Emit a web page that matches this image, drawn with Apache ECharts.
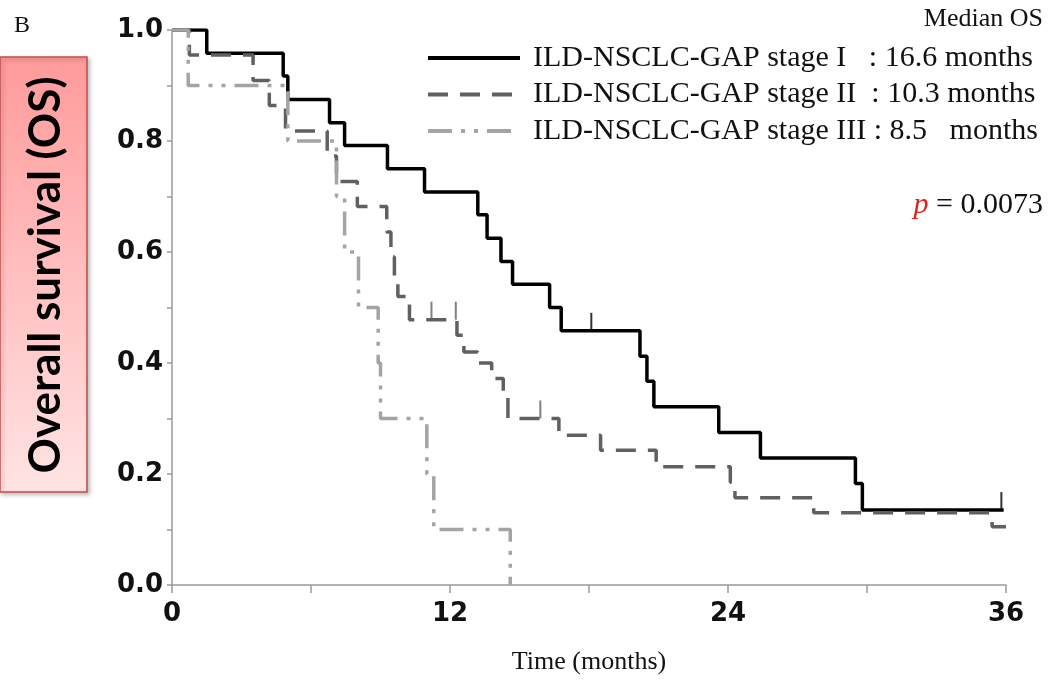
<!DOCTYPE html>
<html>
<head>
<meta charset="utf-8">
<script src="https://cdn.jsdelivr.net/npm/echarts@6/dist/echarts.min.js"></script>
<style>
  html, body { margin: 0; padding: 0; background: #fff; }
  #chart { width: 1051px; height: 686px; }
</style>
</head>
<body>
<div id="chart"></div>
<script>
// Kaplan-Meier steps (months, survival)
const stage1Times = [0, 1.5, 4.8, 5.0, 6.8, 7.45, 9.3, 10.9, 13.2, 13.6, 14.2, 14.7, 16.3, 16.8, 20.2, 20.5, 20.8, 23.6, 25.4, 29.5, 29.8, 35.9];
const stage1Surv = [1, 0.958, 0.917, 0.875, 0.833, 0.792, 0.75, 0.708, 0.667, 0.625, 0.583, 0.542, 0.5, 0.458, 0.412, 0.367, 0.321, 0.275, 0.229, 0.183, 0.135, 0.135];
const stage1CensorT = [18.1, 35.8];
const stage1CensorS = [0.458, 0.135];

const stage2Times = [0, 0.75, 3.5, 4.2, 4.9, 6.7, 7.1, 8.0, 9.27, 9.45, 9.6, 9.75, 10.25, 12.3, 12.6, 13.2, 13.8, 14.3, 14.5, 16.7, 18.5, 20.9, 24.1, 24.3, 27.7, 35.4, 36];
const stage2Surv = [1, 0.955, 0.909, 0.864, 0.818, 0.773, 0.727, 0.682, 0.636, 0.591, 0.545, 0.52, 0.478, 0.45, 0.42, 0.4, 0.372, 0.34, 0.3, 0.27, 0.243, 0.213, 0.185, 0.157, 0.13, 0.105, 0.105];
const stage2CensorT = [11.2, 12.25, 15.9];
const stage2CensorS = [0.478, 0.478, 0.3];

const stage3Times = [0, 0.7, 5.0, 7.1, 7.45, 8.05, 8.9, 9.0, 11.0, 11.3, 14.6];
const stage3Surv = [1, 0.9, 0.8, 0.7, 0.6, 0.5, 0.4, 0.3, 0.2, 0.1, 0];

const seriesNames = [
  "ILD-NSCLC-GAP stage I   : 16.6 months",
  "ILD-NSCLC-GAP stage II  : 10.3 months",
  "ILD-NSCLC-GAP stage III : 8.5   months",
];
const xTicks = [0, 12, 24, 36];

const zip = (a, b) => a.map((v, i) => [v, b[i]]);

const chart = echarts.init(document.getElementById("chart"), null, { renderer: "canvas" });

function censorSeries(t, s, color) {
  return {
    type: "scatter",
    data: zip(t, s),
    symbol: "rect",
    symbolSize: [2, 18],
    symbolOffset: [0, -9],
    itemStyle: { color: color },
    silent: true,
    z: 3,
  };
}

chart.setOption({
  animation: false,
  backgroundColor: "#fff",
  grid: { left: 172, right: 45, top: 30, bottom: 101 },
  legend: {
    data: seriesNames,
    orient: "vertical",
    left: 421,
    top: 38,
    itemWidth: 92,
    itemHeight: 20,
    itemGap: 6.5,
    itemStyle: { opacity: 0 },
    lineStyle: { width: 4 },
    textStyle: {
      fontFamily: "Liberation Serif",
      fontSize: 30,
      lineHeight: 30,
      color: "#111",
      padding: [0, 0, 0, 8],
    },
  },
  xAxis: {
    type: "value",
    min: 0,
    max: 36,
    interval: 6,
    name: "Time (months)",
    nameLocation: "middle",
    nameGap: 64,
    nameTextStyle: { fontFamily: "Liberation Serif", fontSize: 26, color: "#111" },
    axisLine: { lineStyle: { color: "#9a9a9a", width: 1.5 } },
    axisTick: { length: 8, lineStyle: { color: "#9a9a9a", width: 1.5 } },
    axisLabel: {
      margin: 16,
      fontFamily: "DejaVu Sans",
      fontWeight: "bold",
      fontSize: 26,
      color: "#111",
      formatter: (v) => (xTicks.includes(v) ? String(v) : ""),
    },
    splitLine: { show: false },
  },
  yAxis: {
    type: "value",
    min: 0,
    max: 1,
    interval: 0.1,
    axisLine: { show: true, lineStyle: { color: "#9a9a9a", width: 1.5 } },
    axisTick: { show: true, length: 5, lineStyle: { color: "#9a9a9a", width: 1.5 } },
    axisLabel: {
      margin: 9,
      fontFamily: "DejaVu Sans",
      fontWeight: "bold",
      fontSize: 26,
      color: "#111",
      formatter: (v) => (Math.round(v * 10) % 2 === 0 ? v.toFixed(1) : ""),
    },
    splitLine: { show: false },
  },
  series: [
    {
      name: seriesNames[0],
      type: "line",
      step: "end",
      symbol: "none",
      data: zip(stage1Times, stage1Surv),
      lineStyle: { color: "#000", width: 3.5 },
      itemStyle: { color: "#000" },
      z: 2,
    },
    {
      name: seriesNames[1],
      type: "line",
      step: "end",
      symbol: "none",
      data: zip(stage2Times, stage2Surv),
      lineStyle: { color: "#606060", width: 3.5, type: [20, 12] },
      itemStyle: { color: "#606060" },
      z: 3,
    },
    {
      name: seriesNames[2],
      type: "line",
      step: "end",
      symbol: "none",
      data: zip(stage3Times, stage3Surv),
      lineStyle: { color: "#a4a4a4", width: 3.5, type: [24, 9, 4, 9, 4, 9] },
      itemStyle: { color: "#a4a4a4" },
      z: 4,
    },
    censorSeries(stage1CensorT, stage1CensorS, "#000"),
    censorSeries(stage2CensorT, stage2CensorS, "#606060"),
  ],
  graphic: [
    {
      type: "text",
      left: 14,
      top: 14,
      style: { text: "B", fontFamily: "Liberation Serif", fontSize: 24, fill: "#111" },
    },
    {
      type: "text",
      x: 1043,
      y: 19,
      style: {
        text: "Median OS",
        fontFamily: "Liberation Serif",
        fontSize: 26,
        fill: "#111",
        align: "right",
        verticalAlign: "middle",
      },
    },
    {
      type: "text",
      x: 1043,
      y: 205,
      style: {
        text: "{p|p} = 0.0073",
        fontFamily: "Liberation Serif",
        fontSize: 30,
        fill: "#111",
        align: "right",
        verticalAlign: "middle",
        rich: {
          p: { fontFamily: "Liberation Serif", fontStyle: "italic", fontSize: 30, fill: "#e0201b" },
        },
      },
    },
    {
      type: "rect",
      shape: { x: 0, y: 57, width: 87, height: 435 },
      style: {
        fill: new echarts.graphic.LinearGradient(0, 0, 0, 1, [
          { offset: 0, color: "#ff9a9a" },
          { offset: 1, color: "#ffe4e4" },
        ]),
        stroke: "#c0504d",
        lineWidth: 1.5,
        shadowBlur: 4,
        shadowOffsetX: 2,
        shadowOffsetY: 2,
        shadowColor: "rgba(0,0,0,0.25)",
      },
    },
    {
      type: "text",
      x: 46,
      y: 275,
      rotation: Math.PI / 2,
      style: {
        text: "Overall survival (OS)",
        fontFamily: "Lato",
        fontWeight: "bold",
        fontSize: 44,
        fill: "#000",
        align: "center",
        verticalAlign: "middle",
      },
    },
  ],
});
</script>
</body>
</html>
